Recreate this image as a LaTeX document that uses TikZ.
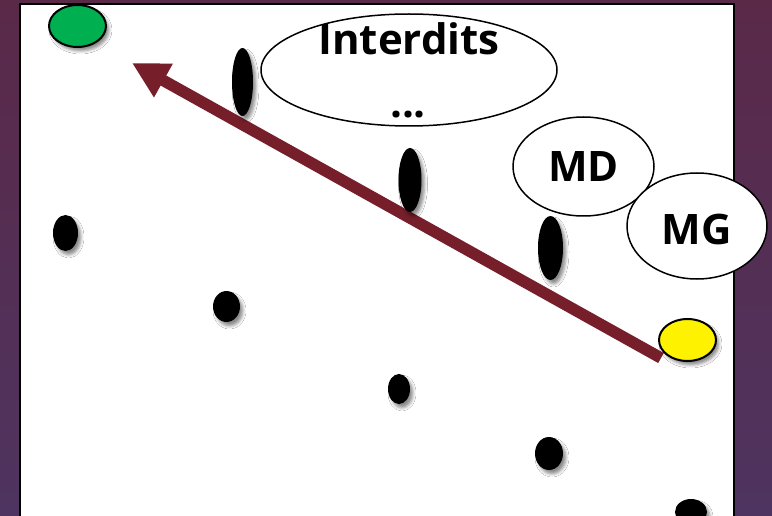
\documentclass[tikz,border=0pt]{standalone}
\usepackage{fontspec}
\setmainfont{Open Sans}
\usetikzlibrary{arrows.meta,shapes.geometric,shadows.blur}
\definecolor{bgtop}{RGB}{90,41,72}
\definecolor{bgbottom}{RGB}{78,52,96}
\definecolor{arrowred}{RGB}{118,31,42}
\definecolor{stonegreen}{RGB}{0,176,80}

\begin{document}
\begin{tikzpicture}[x=1pt,y=-1pt,
  stone/.style={ellipse,inner sep=0pt,fill=black,
    blur shadow={shadow xshift=3pt,shadow yshift=-4pt,shadow blur radius=3pt,shadow opacity=45}},
  bubble/.style={ellipse,inner sep=0pt,draw,line width=1.5pt,fill=white},
  bubbletext/.style={anchor=base,font=\bfseries\fontsize{42}{50}\selectfont}]
  \useasboundingbox (0,0) rectangle (772,516);
  \clip (0,0) rectangle (772,516);
  \shade[top color=bgtop,bottom color=bgbottom] (0,0) rectangle (772,516);
  \draw[line width=2pt,fill=white] (20,4) rectangle (734,530);

  % the move
  \coordinate (tail) at (661,358);
  \coordinate (tip) at (132,63);
  \draw[arrowred,line width=11.5pt,-{Triangle[length=36pt,width=36pt]}] (tail) -- (tip);

  % start and goal
  \node[stone,fill=stonegreen,draw,line width=2pt,minimum width=57pt,minimum height=42pt] (start) at (77.5,26) {};
  \node[stone,fill=yellow,draw,line width=2pt,minimum width=57pt,minimum height=42pt] (goal) at (687.5,340) {};

  % standing stones
  \node[stone,minimum width=21pt,minimum height=68pt] (tallA) at (242.5,82) {};
  \node[stone,minimum width=23pt,minimum height=64pt] (tallB) at (410,180) {};
  \node[stone,minimum width=25pt,minimum height=64pt] (tallC) at (550.5,248) {};

  % lying stones
  \node[stone,minimum width=25pt,minimum height=36pt] (dotA) at (65.5,233) {};
  \node[stone,minimum width=27pt,minimum height=31pt] (dotB) at (226.5,306.5) {};
  \node[stone,minimum width=22pt,minimum height=30pt] (dotC) at (399,389) {};
  \node[stone,minimum width=28pt,minimum height=33pt] (dotD) at (549,453.5) {};
  \node[stone,minimum width=32pt,minimum height=26pt] (dotE) at (691,512) {};

  % labels
  \node[bubble,minimum width=296pt,minimum height=112pt] (interdits) at (409,70) {};
  \node[bubbletext] (interditsA) at (409,55) {Interdits};
  \node[bubbletext] (interditsB) at (408,118) {...};
  \node[bubble,minimum width=141pt,minimum height=99pt] (md) at (583.5,166.5) {};
  \node[bubbletext] (mdtext) at (583.5,182) {MD};
  \node[bubble,minimum width=140pt,minimum height=106pt] (mg) at (697,226) {};
  \node[bubbletext] (mgtext) at (696.5,244) {MG};
\end{tikzpicture}
\end{document}
